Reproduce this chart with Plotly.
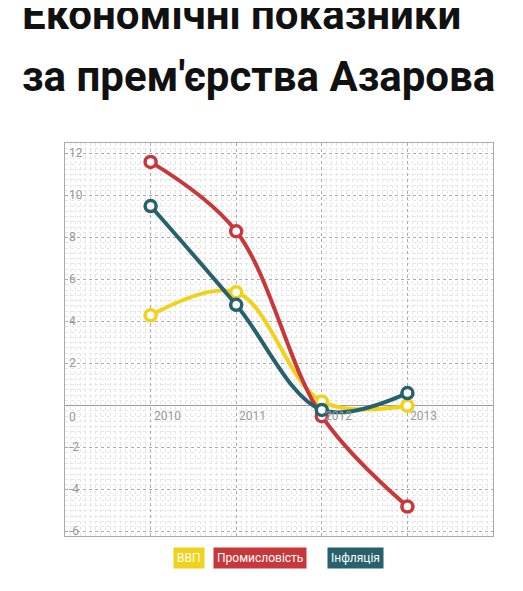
import plotly.graph_objects as go

years = [2010, 2011, 2012, 2013]
vvp = [4.3, 5.4, 0.2, 0.0]
prom = [11.6, 8.3, -0.5, -4.8]
infl = [9.5, 4.8, -0.2, 0.6]
names = ["ВВП", "Промисловість", "Інфляція"]
colors = ["#F2D11A", "#C8383A", "#27616D"]
yticks = [-6, -4, -2, 0, 2, 4, 6, 8, 10, 12]
title_lines = ["Економічні показники", "за прем'єрства Азарова"]

fig = go.Figure()
for vals, n, c in zip([vvp, prom, infl], names, colors):
    fig.add_trace(go.Scatter(x=years, y=vals, name=n, mode="lines+markers",
                             line=dict(color=c, width=4, shape="spline", smoothing=1.0),
                             marker=dict(size=11, color="white", line=dict(color=c, width=3.5))))

tf = dict(family="Roboto", size=12, color="#999")
for yr in years:
    fig.add_annotation(x=yr, y=0, text=str(yr), showarrow=False, xanchor="left", yanchor="top",
                       xshift=1, yshift=-1, font=tf)
for t in yticks:
    fig.add_annotation(x=2009, y=t, text=str(t), showarrow=False, xanchor="left", yanchor="top",
                       xshift=2, yshift=(10 if t != 0 else -2), font=tf)

for line, yp in zip(title_lines, [1.328, 1.168]):
    fig.add_annotation(xref="paper", yref="paper", x=-0.105, y=yp, text="<b>" + line + "</b>",
                       showarrow=False, xanchor="left", yanchor="middle",
                       font=dict(family="Roboto", size=42, color="#111"))

plot_w = 523 - 57 - 38
leg_px = [181, 252, 347]
for n, c, px in zip(names, colors, leg_px):
    fig.add_annotation(xref="paper", yref="paper", x=(px - 57) / plot_w, y=-0.085, text=n, showarrow=False,
                       bgcolor=c, borderpad=3, xanchor="center",
                       font=dict(family="Roboto", size=12, color="white"))

fig.update_layout(
    width=523, height=591, showlegend=False, plot_bgcolor="white", paper_bgcolor="white",
    margin=dict(l=57, r=38, t=135, b=63),
    xaxis=dict(range=[2009, 2014], dtick=1, tick0=2009, showticklabels=False, showgrid=True,
               gridcolor="#aaa", griddash="dot", zeroline=False, showline=True, linecolor="#aaa",
               mirror=True, minor=dict(dtick=1/17, showgrid=True, gridcolor="#e6e6e6", griddash="dot")),
    yaxis=dict(range=[-6.2, 12.5], dtick=2, tick0=0, showticklabels=False, showgrid=True,
               gridcolor="#aaa", griddash="dot", zeroline=True, zerolinecolor="#999", zerolinewidth=1,
               showline=True, linecolor="#aaa", mirror=True,
               minor=dict(dtick=0.25, showgrid=True, gridcolor="#e6e6e6", griddash="dot")),
)
fig.write_html("out.html")
